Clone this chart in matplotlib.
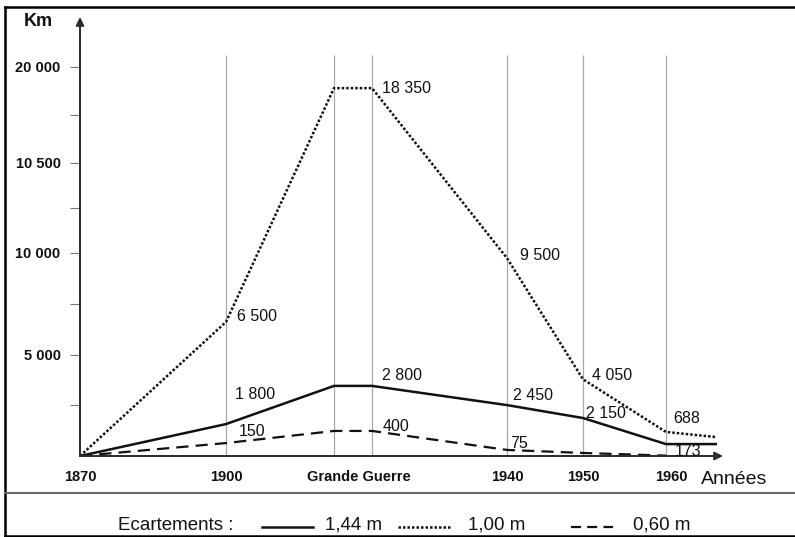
import numpy as np
import matplotlib
matplotlib.use("Agg")
import matplotlib.pyplot as plt

# ---------------- data ----------------
years_main = [1870, 1900, 1914, 1918, 1940, 1950, 1960, 1966]
years_060 = [1870, 1900, 1914, 1918, 1940, 1950, 1960]

# values as drawn on the (schematic) chart
km_100 = [0, 6620, 18900, 18900, 9750, 3800, 1190, 940]      # 1,00 m (dotted)
km_144 = [0, 1580, 3470, 3470, 2520, 1880, 590, 590]          # 1,44 m (solid)
km_060 = [0, 640, 1240, 1240, 300, 150, 20]                   # 0,60 m (dashed)

# printed value labels: (index in series, text)
labels_100 = [(1, "6 500"), (3, "18 350"), (4, "9 500"), (5, "4 050"), (6, "688")]
labels_144 = [(1, "1 800"), (3, "2 800"), (4, "2 450"), (5, "2 150")]
labels_060 = [(1, "150"), (3, "400"), (4, "75"), (6, "173")]

grid_years = [1900, 1914, 1918, 1940, 1950, 1960]
xtick_years = [1870, 1900, 1916.6, 1940, 1950, 1960.6]
xtick_labels = ["1870", "1900", "Grande Guerre", "1940", "1950", "1960"]
ytick_major = [5000, 10000, 15000, 20000]
ytick_labels = ["5 000", "10 000", "10 500", "20 000"]
ytick_minor = [2500, 7500, 12500, 17500]

series_names = ["1,44 m", "1,00 m", "0,60 m"]

# ---------------- scales (schematic, non-linear axes) ----------------
XB_YEARS = [1800, 1870, 1900, 1914, 1918, 1940, 1950, 1960, 2050]
XB_PX = [-261, 80, 226, 334, 372, 507, 583, 666, 1413]
YB_VAL = [-20000, 0, 5000, 10000, 15000, 20000, 40000]
YB_PX = [-400, 0, 101, 203, 293, 389, 775]

def fwd_x(v):
    return np.interp(v, XB_YEARS, XB_PX)
def inv_x(p):
    return np.interp(p, XB_PX, XB_YEARS)
def fwd_y(v):
    return np.interp(v, YB_VAL, YB_PX)
def inv_y(p):
    return np.interp(p, YB_PX, YB_VAL)

plt.rcParams["font.family"] = ["Liberation Sans", "DejaVu Sans"]

W, H = 795, 537
fig = plt.figure(figsize=(W / 100, H / 100), dpi=100)

def fx(px):
    return px / W
def fy(py):
    return 1 - py / H

ax = fig.add_axes([fx(80), fy(456), fx(723) - fx(80), fy(17) - fy(456)])
ax.set_xscale("function", functions=(fwd_x, inv_x))
ax.set_yscale("function", functions=(fwd_y, inv_y))
ax.set_xlim(1870, 1966.87)
ax.set_ylim(0, 22590)

for s in ax.spines.values():
    s.set_visible(False)
ax.patch.set_alpha(0)

INK = "#111111"
ax.vlines(grid_years, 0, 20625, colors="#a8a8a8", lw=0.9, zorder=1)

style_144 = dict(color=INK, lw=1.8, linestyle="-")
style_100 = dict(color=INK, lw=1.8, linestyle=(0, (1, 0.8)))
style_060 = dict(color=INK, lw=1.6, linestyle=(0, (5.5, 3.2)))

ax.plot(years_main, km_144, zorder=3, **style_144)
ax.plot(years_main, km_100, zorder=3, **style_100)
ax.plot(years_060, km_060, zorder=3, **style_060)

PT = 0.72  # points per pixel
off_100 = [(31, 5), (35, 0), (33, 3), (29, 4), (21, 13)]
off_144 = [(29, 30), (30, 10), (26, 10), (23, 5)]
off_060 = [(26, 12), (24, 4), (12, 6), (22, 4)]
for yrs, vals, labs, offs in [(years_main, km_100, labels_100, off_100),
                              (years_main, km_144, labels_144, off_144),
                              (years_060, km_060, labels_060, off_060)]:
    for (i, t), (dx, dy) in zip(labs, offs):
        ax.annotate(t, xy=(yrs[i], vals[i]), xytext=(dx * PT, dy * PT),
                    textcoords="offset points", ha="center", va="center",
                    fontsize=11.5, color=INK, zorder=4)

# axes arrows
arrow = dict(arrowstyle="-|>", color="#2a2a2a", lw=1.4, mutation_scale=12,
             shrinkA=0, shrinkB=0)
ax.annotate("", xy=(0, 1), xytext=(0, 0), xycoords="axes fraction",
            arrowprops=arrow, annotation_clip=False)
ax.annotate("", xy=(1, 0), xytext=(0, 0), xycoords="axes fraction",
            arrowprops=arrow, annotation_clip=False)

# ticks
ax.set_xticks(xtick_years)
ax.set_xticklabels(xtick_labels, fontsize=10.5, fontweight="bold", color=INK)
ax.tick_params(axis="x", length=0, pad=10)
ax.set_yticks(ytick_major)
ax.set_yticklabels(ytick_labels, fontsize=10.5, fontweight="bold", color=INK)
ax.set_yticks(ytick_minor, minor=True)
ax.tick_params(axis="y", which="both", direction="out", length=7, width=0.8,
               color="#777777", pad=7)

fig.text(fx(38), fy(21), "Km", fontsize=13, fontweight="bold", color=INK,
         ha="center", va="center")
fig.text(fx(734), fy(480), "Années", fontsize=14, color=INK,
         ha="center", va="center")

# overlay for frame and legend
ov = fig.add_axes([0, 0, 1, 1], zorder=-1)
ov.set_xlim(0, W)
ov.set_ylim(H, 0)
ov.axis("off")
ov.plot([5, W], [7, 7], color="#000000", lw=1.8)
ov.plot([5, 5], [7, 536], color="#000000", lw=1.8)
ov.plot([5, W], [536, 536], color="#000000", lw=1.8)
ov.plot([5, W], [493, 493], color="#6a6a6a", lw=1.5)

ly = 525
legend_060 = dict(style_060, linestyle=(0, (4.5, 2.8)))
ov.text(118, ly, "Ecartements :", fontsize=13.5, color=INK, ha="left", va="center")
ov.plot([262, 313], [ly + 2, ly + 2], **style_144)
ov.text(325, ly, series_names[0], fontsize=13.5, color=INK, ha="left", va="center")
ov.plot([398, 450], [ly + 2, ly + 2], **style_100)
ov.text(468, ly, series_names[1], fontsize=13.5, color=INK, ha="left", va="center")
ov.plot([571, 613], [ly + 2, ly + 2], **legend_060)
ov.text(633, ly, series_names[2], fontsize=13.5, color=INK, ha="left", va="center")

fig.savefig("out.png", dpi=100)
